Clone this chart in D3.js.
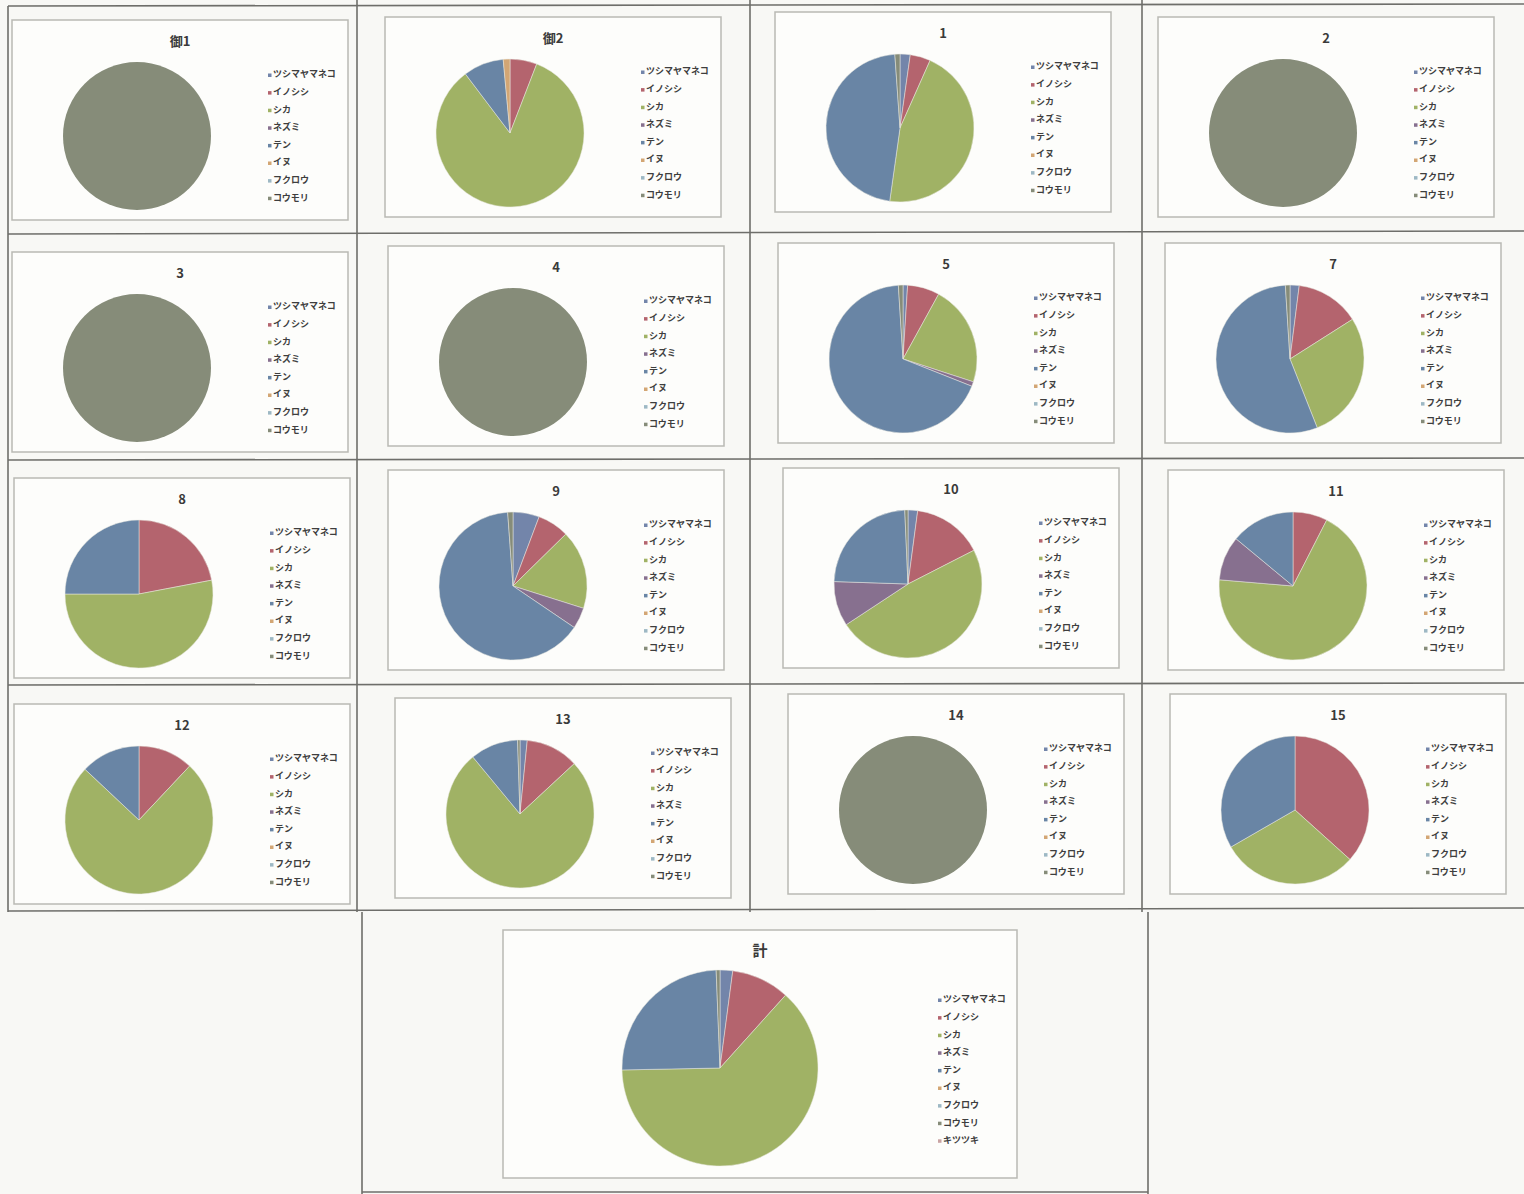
<!DOCTYPE html>
<html>
<head>
<meta charset="utf-8">
<script src="https://cdn.jsdelivr.net/npm/d3@7"></script>
<style>
  body { margin: 0; background: #f8f8f5; }
  svg { display: block; }
</style>
</head>
<body>
<div id="chart"></div>
<script>
// species shown in the legends
const species = ["ツシマヤマネコ", "イノシシ", "シカ", "ネズミ", "テン", "イヌ", "フクロウ", "コウモリ"];
const speciesTotal = species.concat(["キツツキ"]);
const speciesColors = ["#7385aa", "#b4646e", "#a0b265", "#87708f", "#6985a5", "#d3a674", "#9db8c4", "#868c79", "#c9a3a3"];

// chart titles, in reading order
const titles = ["御1", "御2", "1", "2", "3", "4", "5", "7", "8", "9", "10", "11", "12", "13", "14", "15"];

// counts per site (same order as species)
const go1  = [0, 0, 0, 0, 0, 0, 0, 1];
const go2  = [0, 4, 57, 0, 6, 1, 0, 0];
const s1   = [2, 4, 41, 0, 42, 0, 0, 1];
const s2   = [0, 0, 0, 0, 0, 0, 0, 1];
const s3   = [0, 0, 0, 0, 0, 0, 0, 1];
const s4   = [0, 0, 0, 0, 0, 0, 0, 1];
const s5   = [1, 7, 22, 1, 68, 0, 0, 1];
const s7   = [2, 14, 28, 0, 55, 0, 0, 1];
const s8   = [0, 22, 53, 0, 25, 0, 0, 0];
const s9   = [5, 6, 15, 4, 56, 0, 0, 1];
const s10  = [3, 22, 69, 14, 34, 0, 0, 1];
const s11  = [0, 7, 64, 9, 13, 0, 0, 0];
const s12  = [0, 12, 75, 0, 13, 0, 0, 0];
const s13  = [3, 22, 145, 0, 20, 0, 0, 1];
const s14  = [0, 0, 0, 0, 0, 0, 0, 1];
const s15  = [0, 11, 9, 0, 10, 0, 0, 0];
const total = [20, 92, 605, 0, 237, 0, 0, 6, 0];

const siteData = [go1, go2, s1, s2, s3, s4, s5, s7, s8, s9, s10, s11, s12, s13, s14, s15];

// top-left corner of each small chart box on the scanned sheet
const boxes = [
  [12, 20], [385, 17], [775, 12], [1158, 17],
  [12, 252], [388, 246], [778, 243], [1165, 243],
  [14, 478], [388, 470], [783, 468], [1168, 470],
  [14, 704], [395, 698], [788, 694], [1170, 694]
];

const width = 1524, height = 1194;

const svg = d3.select("#chart")
  .append("svg")
    .attr("width", width)
    .attr("height", height);

// table grid of the sheet
const grid = svg.append("g")
  .attr("stroke", "#6e6e6a")
  .attr("stroke-width", 1.6)
  .attr("fill", "none");

[[8, 6, 8, 912], [357, 0, 357, 912], [750, 0, 750, 912], [1142, 0, 1142, 912],
 [362, 912, 362, 1194], [1148, 912, 1148, 1194],
 [8, 6, 1524, 4], [8, 234, 1524, 231], [8, 460, 1524, 458], [8, 685, 1524, 683],
 [8, 911, 1524, 908], [362, 1192, 1148, 1192]]
  .forEach(function(l) {
    grid.append("line")
      .attr("x1", l[0]).attr("y1", l[1])
      .attr("x2", l[2]).attr("y2", l[3]);
  });

const pie = d3.pie().sort(null).value(function(d) { return d; });

function drawChart(g, w, h, title, data, names, cx, cy, r, lx, ly) {
  g.append("rect")
    .attr("width", w)
    .attr("height", h)
    .attr("fill", "#fdfdfb")
    .attr("stroke", "#b9b9b4")
    .attr("stroke-width", 1.5);

  g.append("text")
    .attr("x", w / 2)
    .attr("y", 26)
    .attr("text-anchor", "middle")
    .attr("font-family", "'Noto Sans CJK JP', 'Noto Sans', sans-serif")
    .attr("font-size", title == "計" ? 15 : 13)
    .attr("font-weight", "bold")
    .attr("fill", "#3a3a3a")
    .text(title);

  const arc = d3.arc().innerRadius(0).outerRadius(r);
  const arcs = pie(data).filter(function(d) { return d.value > 0; });

  g.append("g")
    .attr("transform", `translate(${cx},${cy})`)
    .selectAll("path")
    .data(arcs)
    .join("path")
      .attr("d", arc)
      .attr("fill", function(d) { return speciesColors[d.index]; })
      .attr("stroke", arcs.length > 1 ? "#e8e8e0" : "none")
      .attr("stroke-width", 0.5);

  const leg = g.append("g")
    .attr("transform", `translate(${lx},${ly})`)
    .selectAll("g")
    .data(names)
    .join("g")
      .attr("transform", function(d, i) { return `translate(0,${i * 17.6})`; });

  leg.append("rect")
    .attr("x", 0)
    .attr("y", -3.5)
    .attr("width", 3.5)
    .attr("height", 3.5)
    .attr("fill", function(d, i) { return speciesColors[i]; });

  leg.append("text")
    .attr("x", 5)
    .attr("y", 0)
    .attr("dy", "0.05em")
    .attr("font-family", "'Noto Sans CJK JP', sans-serif")
    .attr("font-size", 9)
    .attr("font-weight", "bold")
    .attr("fill", "#3e3e3e")
    .text(function(d) { return d; });
}

for (let i = 0; i < titles.length; i++) {
  const g = svg.append("g")
    .attr("transform", `translate(${boxes[i][0]},${boxes[i][1]})`);
  drawChart(g, 336, 200, titles[i], siteData[i], species, 125, 116, 74, 256, 57);
}

// overall chart at the bottom
const gt = svg.append("g").attr("transform", "translate(503,930)");
drawChart(gt, 514, 248, "計", total, speciesTotal, 217, 138, 98, 435, 72);
</script>
</body>
</html>
